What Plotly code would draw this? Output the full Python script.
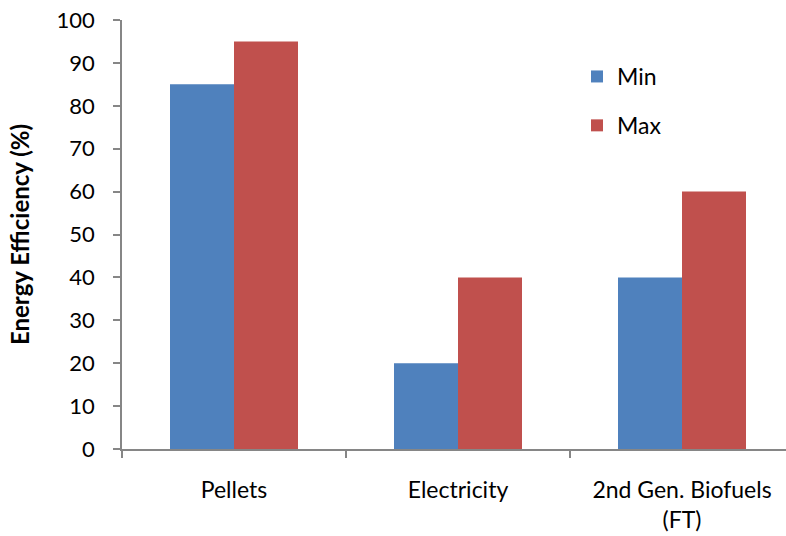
import plotly.graph_objects as go

categories = ["Pellets", "Electricity", "2nd Gen. Biofuels<br>(FT)"]
min_values = [85, 20, 40]
max_values = [95, 40, 60]

FONT = "Lato, 'Open Sans', sans-serif"
AXIS_GRAY = "#868686"

fig = go.Figure()
fig.add_trace(go.Bar(
    name="Min", x=categories, y=min_values, legendgroup="min",
    marker=dict(color="#4F81BD", line=dict(width=0)),
))
fig.add_trace(go.Bar(
    name="Max", x=categories, y=max_values, legendgroup="max",
    marker=dict(color="#C0504D", line=dict(width=0)),
))

W, H = 786, 536
left, right, top, bottom = 122, 0, 20, 87
plot_w = W - left - right
plot_h = H - top - bottom

fig.update_layout(
    width=W, height=H,
    margin=dict(l=left, r=right, t=top, b=bottom),
    paper_bgcolor="white", plot_bgcolor="white",
    barmode="group", bargap=96 / 224, bargroupgap=0,
    font=dict(family=FONT, size=23, color="#000000"),
    showlegend=True,
    legend=dict(
        x=(577 - left) / plot_w, y=1 - (55 - top) / plot_h,
        xanchor="left", yanchor="top",
        font=dict(family=FONT, size=23),
        traceorder="grouped", tracegroupgap=16,
        itemwidth=30,
        bgcolor="rgba(0,0,0,0)",
    ),
    xaxis=dict(
        range=[-0.5, -0.5 + plot_w / 224],
        showline=True, linecolor=AXIS_GRAY, linewidth=1.5,
        ticks="outside", tickson="boundaries", ticklen=7,
        tickcolor=AXIS_GRAY, tickwidth=1.5,
        ticklabelstandoff=20,
        showgrid=False, zeroline=False,
        tickfont=dict(family=FONT, size=23),
    ),
    yaxis=dict(
        range=[0, 100], dtick=10, tick0=0,
        showline=True, linecolor=AXIS_GRAY, linewidth=1.5,
        ticks="outside", ticklen=7, tickcolor=AXIS_GRAY, tickwidth=1.5,
        ticklabelstandoff=14,
        showgrid=False, zeroline=False,
        tickfont=dict(family=FONT, size=22),
        title=dict(text="<b>Energy Efficiency (%)</b>", standoff=20,
                   font=dict(family=FONT, size=24)),
    ),
)

fig.write_html("out.html")
